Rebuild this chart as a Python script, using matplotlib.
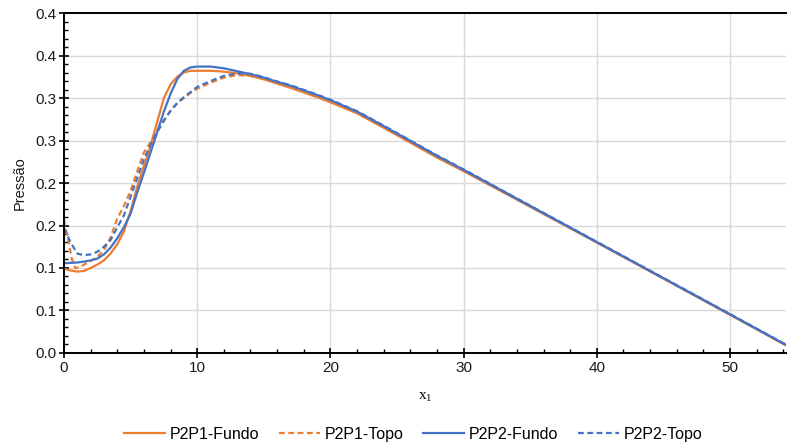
import matplotlib
matplotlib.use('Agg')
import matplotlib.pyplot as plt
from matplotlib.ticker import MultipleLocator, FixedLocator, FixedFormatter

plt.rcParams['font.family'] = ['Liberation Sans', 'DejaVu Sans']

# pressure profiles along x1
x_p1_fundo = [0, 0.5, 1, 1.5, 2, 2.5, 3, 3.5, 4, 4.5, 5, 5.5, 6, 6.5, 7, 7.5, 8, 8.5, 9, 9.5,
              10, 11, 12, 13, 14, 15, 16, 17, 18, 19, 20, 22, 24, 26, 28, 30, 35, 40, 45, 50, 54.2]
p_p1_fundo = [0.099, 0.097, 0.0958, 0.0965, 0.100, 0.104, 0.109, 0.117, 0.128, 0.143, 0.167, 0.196,
              0.220, 0.244, 0.272, 0.300, 0.316, 0.325, 0.330, 0.332, 0.332, 0.332, 0.331, 0.329,
              0.326, 0.322, 0.317, 0.312, 0.3065, 0.301, 0.295, 0.282, 0.265, 0.2475, 0.230, 0.214,
              0.172, 0.130, 0.0875, 0.045, 0.009]

x_p1_topo = [0, 0.3, 0.6, 0.85, 1.2, 1.5, 2, 2.5, 3, 3.5, 4, 4.5, 5, 5.5, 6, 6.5, 7, 7.5, 8, 8.5, 9,
             9.5, 10, 11, 12, 13, 14, 15, 16, 17, 18, 19, 20, 22, 24, 26, 28, 30, 35, 40, 45, 50, 54.2]
p_p1_topo = [0.156, 0.134, 0.110, 0.100, 0.101, 0.104, 0.108, 0.113, 0.121, 0.136, 0.158, 0.173,
             0.191, 0.214, 0.236, 0.248, 0.262, 0.274, 0.285, 0.294, 0.300, 0.306, 0.311, 0.318,
             0.324, 0.327, 0.326, 0.3225, 0.3175, 0.3125, 0.307, 0.3015, 0.2955, 0.2825, 0.2655,
             0.248, 0.2305, 0.2145, 0.1725, 0.1302, 0.0877, 0.0452, 0.0092]

x_p2_fundo = [0, 0.5, 1, 1.5, 2, 2.5, 3, 3.5, 4, 4.5, 5, 5.5, 6, 6.5, 7, 7.5, 8, 8.5, 9, 9.5,
              10, 11, 12, 13, 14, 15, 16, 17, 18, 19, 20, 22, 24, 26, 28, 30, 35, 40, 45, 50, 54.2]
p_p2_fundo = [0.1055, 0.106, 0.1065, 0.1075, 0.109, 0.111, 0.116, 0.124, 0.135, 0.148, 0.164, 0.189,
              0.212, 0.236, 0.260, 0.284, 0.305, 0.322, 0.332, 0.336, 0.337, 0.337, 0.335, 0.3315,
              0.328, 0.324, 0.319, 0.3145, 0.309, 0.3035, 0.2975, 0.284, 0.267, 0.2495, 0.232,
              0.2155, 0.173, 0.1305, 0.088, 0.0455, 0.0095]

x_p2_topo = [0, 0.5, 1, 1.5, 2, 2.5, 3, 3.5, 4, 4.5, 5, 5.5, 6, 6.5, 7, 7.5, 8, 8.5, 9, 9.5,
             10, 11, 12, 13, 14, 15, 16, 17, 18, 19, 20, 22, 24, 26, 28, 30, 35, 40, 45, 50, 54.2]
p_p2_topo = [0.147, 0.130, 0.117, 0.115, 0.116, 0.119, 0.125, 0.133, 0.148, 0.162, 0.184, 0.206,
             0.228, 0.245, 0.260, 0.273, 0.285, 0.294, 0.301, 0.307, 0.313, 0.320, 0.326, 0.329,
             0.3285, 0.3245, 0.3195, 0.315, 0.3095, 0.304, 0.298, 0.2845, 0.2675, 0.250, 0.2325,
             0.216, 0.1733, 0.1308, 0.0883, 0.0458, 0.0098]

y_ticks = [0.0, 0.05, 0.10, 0.15, 0.20, 0.25, 0.30, 0.35, 0.40]
y_tick_labels = ['0.0', '0.1', '0.1', '0.2', '0.2', '0.3', '0.3', '0.4', '0.4']

orange = '#ED7D31'
blue = '#4472C4'

fig = plt.figure(figsize=(7.87, 4.47), dpi=100)
ax = fig.add_axes([0.0813, 0.2103, 0.9174, 0.7606])

ax.plot(x_p1_fundo, p_p1_fundo, color=orange, lw=1.6, label='P2P1-Fundo')
ax.plot(x_p1_topo, p_p1_topo, color=orange, lw=1.6, dashes=(2.6, 1.6), label='P2P1-Topo')
ax.plot(x_p2_fundo, p_p2_fundo, color=blue, lw=1.6, label='P2P2-Fundo')
ax.plot(x_p2_topo, p_p2_topo, color=blue, lw=1.6, dashes=(2.6, 1.6), label='P2P2-Topo')

ax.set_xlim(0, 54.2)
ax.set_ylim(0, 0.4)
ax.xaxis.set_major_locator(MultipleLocator(10))
ax.xaxis.set_minor_locator(MultipleLocator(2))
ax.yaxis.set_major_locator(FixedLocator(y_ticks))
ax.yaxis.set_major_formatter(FixedFormatter(y_tick_labels))
ax.yaxis.set_minor_locator(MultipleLocator(0.01))

ax.grid(True, which='major', color='#D9D9D9', lw=1.0)
ax.set_axisbelow(True)

for side in ['left', 'bottom', 'top']:
    ax.spines[side].set_color('black')
    ax.spines[side].set_linewidth(1.4)
ax.spines['right'].set_visible(False)

ax.tick_params(which='major', direction='inout', length=7, width=1.2, color='black',
               labelsize=11, labelcolor='#1a1a1a', pad=2)
ax.tick_params(which='minor', direction='in', length=3, width=1.0, color='black')
ax.tick_params(axis='x', top=False, which='both')

ax.set_ylabel('Pressão', fontsize=10.5, color='#1a1a1a', labelpad=6)
ax.set_xlabel(r'$\mathregular{x_1}$', family='Liberation Serif', fontsize=11, labelpad=12)

fig.legend(loc='lower center', bbox_to_anchor=(0.525, -0.02), ncol=4, frameon=False,
           fontsize=11.5, handlelength=2.6, columnspacing=1.2, handletextpad=0.3)

fig.savefig('out.png', dpi=100)
